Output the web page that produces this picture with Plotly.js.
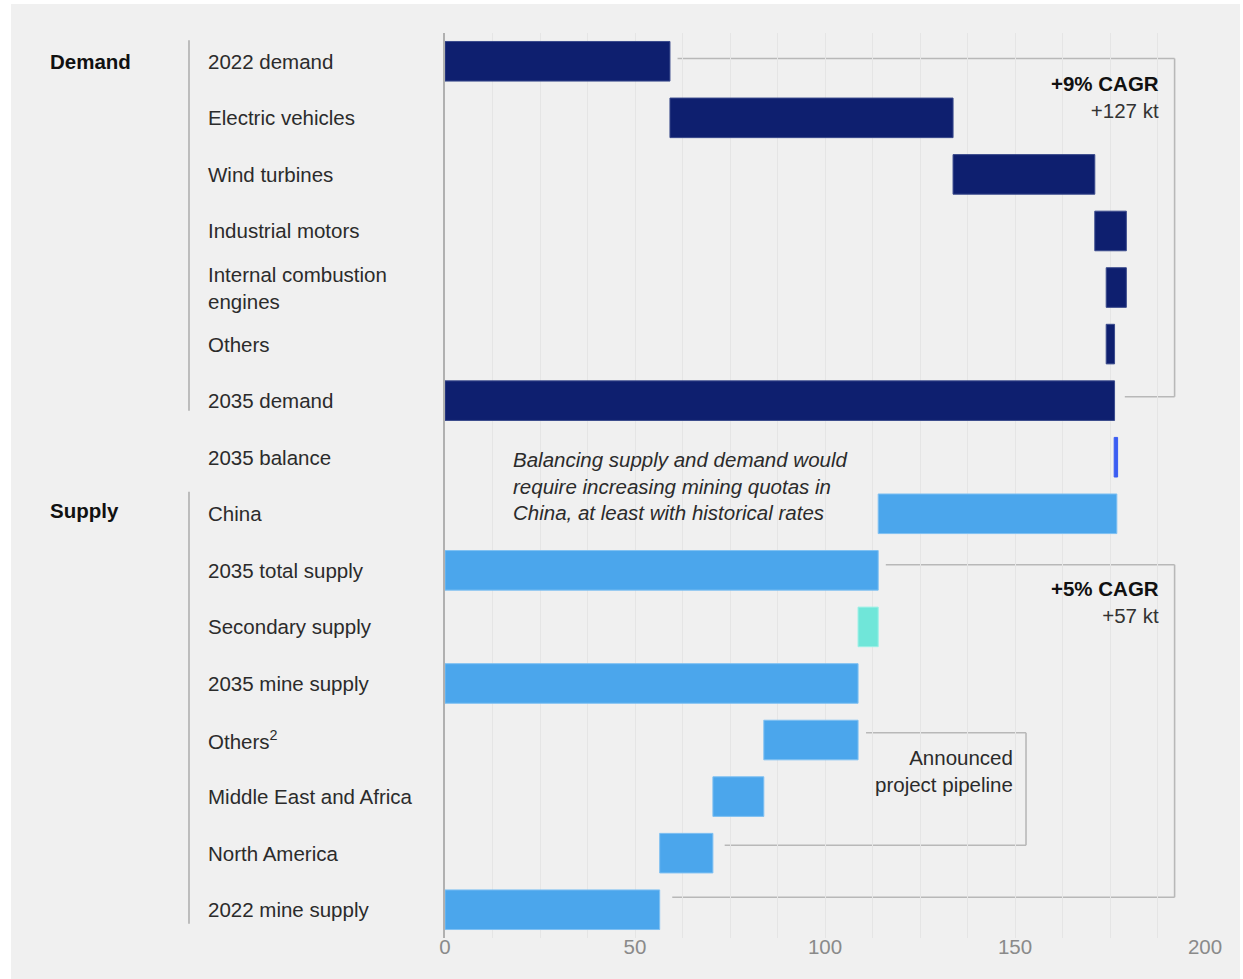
<!DOCTYPE html>
<html>
<head>
<meta charset="utf-8">
<script src="https://cdn.plot.ly/plotly-3.0.1.min.js"></script>
<style>
  html, body { margin: 0; padding: 0; background: #ffffff; }
  #wrap { position: absolute; left: 11px; top: 4px; width: 1229px; height: 975px; background: #f0f0f0; overflow: hidden; }
  #chart { position: absolute; left: -11px; top: -4px; width: 1243px; height: 979px; }
</style>
</head>
<body>
<div id="wrap"><div id="chart"></div></div>
<script>
// ---- data ----
const categories = ['2022 demand', 'Electric vehicles', 'Wind turbines', 'Industrial motors',
  'Internal combustion engines', 'Others', '2035 demand', '2035 balance', 'China',
  '2035 total supply', 'Secondary supply', '2035 mine supply', 'Others²',
  'Middle East and Africa', 'North America', '2022 mine supply'];
const labels = ['2022 demand', 'Electric vehicles', 'Wind turbines', 'Industrial motors',
  'Internal combustion<br>engines', 'Others', '2035 demand', '2035 balance', 'China',
  '2035 total supply', 'Secondary supply', '2035 mine supply', 'Others<sup>2</sup>',
  'Middle East and Africa', 'North America', '2022 mine supply'];
const barStart = [0, 59.2, 133.7, 171.0, 174.0, 174.0, 0, 176.1, 114.0, 0, 108.7, 0, 83.9, 70.5, 56.5, 0];
const barEnd = [59.2, 133.7, 171.0, 179.3, 179.3, 176.2, 176.2, 177.0, 176.8, 114.0, 114.0, 108.7, 108.7, 83.9, 70.5, 56.5];
const barKind = ['demand', 'demand', 'demand', 'demand', 'demand', 'demand', 'demand', 'balance',
  'supply', 'supply', 'secondary', 'supply', 'supply', 'supply', 'supply', 'supply'];
const groups = ['Demand', 'Supply'];
const xTicks = [0, 50, 100, 150, 200];

// ---- styles ----
const colorOf = { demand: '#0e1f6f', balance: '#3a5cf2', supply: '#4ba6ec', secondary: '#70e6d9' };
const lineOf = { demand: '#3a4a8c', balance: '#3a5cf2', supply: '#7fc0f2', secondary: '#9af0e6' };
const W = 1243, H = 979, ML = 445, MR = 38, MT = 33, MB = 41;
const plotW = W - ML - MR;
const px = p => (p - ML) / plotW;
const ux = p => (p - ML) / plotW * 200;
const textFont = 'Liberation Sans, Arial, sans-serif';
const FS = 20.5;

const trace = {
  type: 'bar', orientation: 'h',
  y: categories,
  base: barStart,
  x: barEnd.map((e, i) => e - barStart[i]),
  width: 0.7,
  marker: { color: barKind.map(k => colorOf[k]), line: { color: barKind.map(k => lineOf[k]), width: 1 } },
  hoverinfo: 'skip'
};

const idx = name => categories.indexOf(name);
const annotations = [];
// category labels (left aligned)
labels.forEach((t, i) => {
  annotations.push({ xref: 'paper', yref: 'y', x: px(206), y: i, text: t, showarrow: false,
    xanchor: 'left', yanchor: 'middle', align: 'left',
    font: { family: textFont, size: FS, color: '#2b2b2b' } });
});
// group labels
annotations.push({ xref: 'paper', yref: 'y', x: px(48), y: idx('2022 demand'), text: '<b>' + groups[0] + '</b>',
  showarrow: false, xanchor: 'left', yanchor: 'middle', font: { family: textFont, size: FS, color: '#111' } });
annotations.push({ xref: 'paper', yref: 'y', x: px(48), y: idx('China') - 0.05, text: '<b>' + groups[1] + '</b>',
  showarrow: false, xanchor: 'left', yanchor: 'middle', font: { family: textFont, size: FS, color: '#111' } });
// CAGR notes
annotations.push({ xref: 'x', yref: 'y', x: ux(1161), y: idx('2022 demand') + 0.63,
  text: '<b>+9% CAGR</b><br><span style="color:#333">+127 kt</span>', showarrow: false,
  xanchor: 'right', yanchor: 'middle', align: 'right', font: { family: textFont, size: FS, color: '#111' } });
annotations.push({ xref: 'x', yref: 'y', x: ux(1161), y: idx('2035 total supply') + 0.56,
  text: '<b>+5% CAGR</b><br><span style="color:#333">+57 kt</span>', showarrow: false,
  xanchor: 'right', yanchor: 'middle', align: 'right', font: { family: textFont, size: FS, color: '#111' } });
annotations.push({ xref: 'x', yref: 'y', x: ux(1015), y: idx('Others²') + 0.54,
  text: 'Announced<br>project pipeline', showarrow: false,
  xanchor: 'right', yanchor: 'middle', align: 'right', font: { family: textFont, size: FS, color: '#2b2b2b' } });
annotations.push({ xref: 'x', yref: 'y', x: ux(511), y: idx('2035 balance') + 0.5,
  text: '<i>Balancing supply and demand would<br>require increasing mining quotas in<br>China, at least with historical rates</i>',
  showarrow: false, xanchor: 'left', yanchor: 'middle', align: 'left',
  font: { family: textFont, size: FS, color: '#2b2b2b' } });

// bracket & divider shapes
const bc = { color: '#b8b8b8', width: 1.6 };
const seg = (x0, y0, x1, y1) => ({ type: 'line', xref: 'x', yref: 'y', x0, y0, x1, y1, line: bc, layer: 'below' });
const d0 = idx('2022 demand') - 0.05, d1 = idx('2035 demand') - 0.07;
const s0 = idx('2035 total supply') - 0.1, s1 = idx('2022 mine supply') - 0.22;
const p0 = idx('Others²') - 0.13, p1 = idx('North America') - 0.14;
const shapes = [
  seg(barEnd[idx('2022 demand')] + 2, d0, 192, d0), seg(192, d0, 192, d1), seg(192, d1, barEnd[idx('2035 demand')] + 2.7, d1),
  seg(barEnd[idx('2035 total supply')] + 2, s0, 192, s0), seg(192, s0, 192, s1), seg(192, s1, barEnd[idx('2022 mine supply')] + 3.3, s1),
  seg(barEnd[idx('Others²')] + 2.1, p0, 152.9, p0), seg(152.9, p0, 152.9, p1), seg(152.9, p1, barEnd[idx('North America')] + 3.1, p1),
  { type: 'line', xref: 'paper', yref: 'y', x0: px(189), x1: px(189), y0: idx('2022 demand') - 0.37, y1: idx('2035 demand') + 0.18,
    line: { color: '#b0b0b0', width: 1.6 } },
  { type: 'line', xref: 'paper', yref: 'y', x0: px(189), x1: px(189), y0: idx('China') - 0.39, y1: idx('2022 mine supply') + 0.25,
    line: { color: '#b0b0b0', width: 1.6 } }
];

const layout = {
  width: W, height: H,
  margin: { l: ML, r: MR, t: MT, b: MB },
  paper_bgcolor: 'rgba(0,0,0,0)', plot_bgcolor: 'rgba(0,0,0,0)',
  showlegend: false, hovermode: false,
  xaxis: {
    range: [0, 200], tickvals: xTicks, ticktext: xTicks.map(String),
    showgrid: true, gridcolor: '#e5e5e5', gridwidth: 1,
    minor: { dtick: 12.5, tick0: 0, showgrid: true, gridcolor: '#e5e5e5', gridwidth: 1 },
    zeroline: false, showline: false, ticks: '', ticklabelstandoff: -6,
    tickfont: { family: textFont, size: FS, color: '#8a8a8a' }, fixedrange: true
  },
  yaxis: {
    type: 'category', categoryorder: 'array', categoryarray: categories,
    range: [categories.length - 0.5, -0.5],
    showticklabels: false, showgrid: false, zeroline: false,
    showline: true, linecolor: '#b0b0b0', linewidth: 1.6, ticks: '', fixedrange: true
  },
  bargap: 0.3,
  annotations, shapes
};

Plotly.newPlot('chart', [trace], layout, { displayModeBar: false, staticPlot: true });
</script>
</body>
</html>
